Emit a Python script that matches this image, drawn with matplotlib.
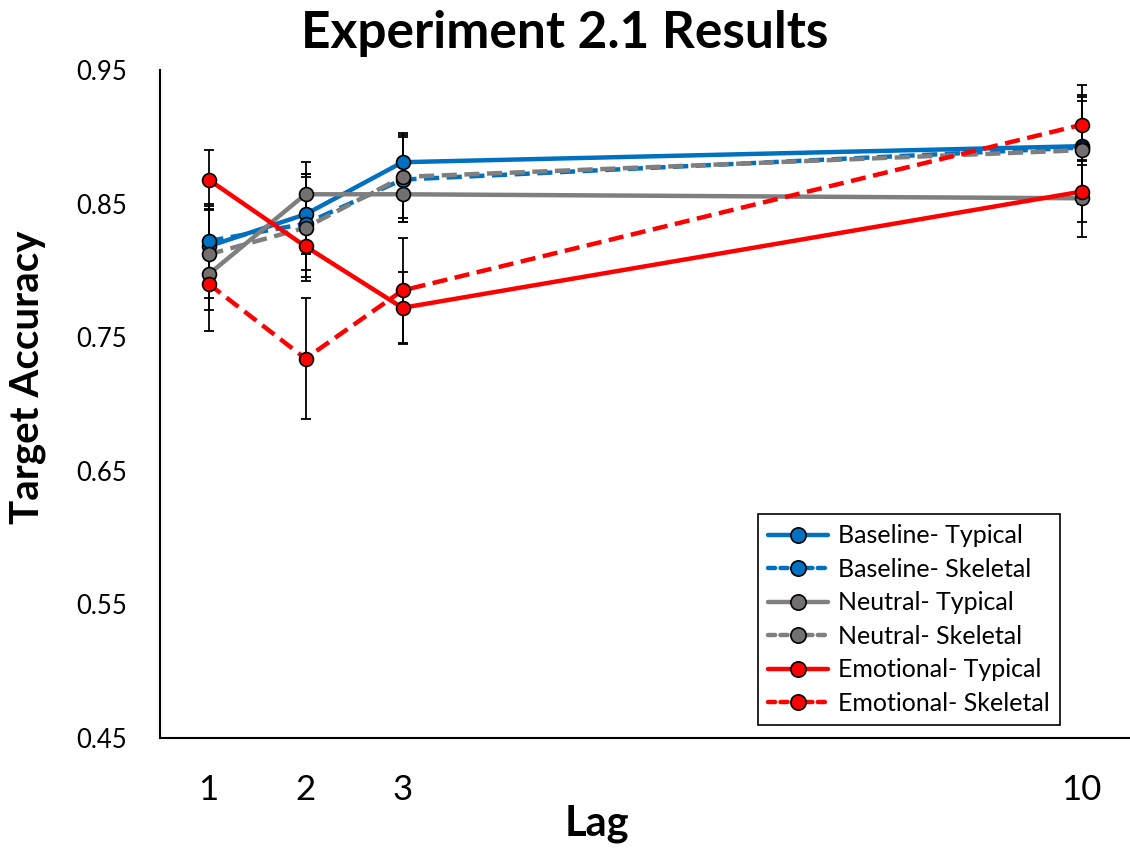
import matplotlib
matplotlib.use("Agg")
import matplotlib.pyplot as plt
from matplotlib.lines import Line2D

# data
lags = [1, 2, 3, 10]
series_names = ["Baseline- Typical", "Baseline- Skeletal", "Neutral- Typical",
                "Neutral- Skeletal", "Emotional- Typical", "Emotional- Skeletal"]
baseline_typical = [0.818, 0.842, 0.881, 0.893]
baseline_skeletal = [0.822, 0.835, 0.868, 0.892]
neutral_typical = [0.797, 0.857, 0.857, 0.854]
neutral_skeletal = [0.812, 0.832, 0.870, 0.890]
emotional_typical = [0.868, 0.818, 0.772, 0.859]
emotional_skeletal = [0.790, 0.734, 0.785, 0.909]

baseline_typical_err = [0.030, 0.030, 0.022, 0.038]
baseline_skeletal_err = [0.028, 0.035, 0.032, 0.035]
neutral_typical_err = [0.027, 0.024, 0.021, 0.029]
neutral_skeletal_err = [0.033, 0.040, 0.031, 0.040]
emotional_typical_err = [0.022, 0.023, 0.027, 0.023]
emotional_skeletal_err = [0.035, 0.045, 0.039, 0.030]

y_ticks = [0.45, 0.55, 0.65, 0.75, 0.85, 0.95]

values = [baseline_typical, baseline_skeletal, neutral_typical,
          neutral_skeletal, emotional_typical, emotional_skeletal]
errors = [baseline_typical_err, baseline_skeletal_err, neutral_typical_err,
          neutral_skeletal_err, emotional_typical_err, emotional_skeletal_err]
line_colors = ["#0070C0", "#0070C0", "#7F7F7F", "#7F7F7F", "#FF0000", "#FF0000"]
marker_colors = ["#0070C0", "#0070C0", "#747070", "#747070", "#FF0000", "#FF0000"]
dashed = [False, True, False, True, False, True]

plt.rcParams["font.family"] = ["Lato", "DejaVu Sans"]

fig = plt.figure(figsize=(11.3, 8.5), dpi=100)
ax = fig.add_axes([0.1416, 0.1318, 0.8584, 0.7858])

handles = []
for i, name in enumerate(series_names):
    ax.errorbar(lags, values[i], yerr=errors[i], fmt="none", ecolor="black",
                elinewidth=1.3, capsize=3.5, capthick=1.3, zorder=2 + i * 0.1)
    ls = (0, (3.4, 1.7)) if dashed[i] else "-"
    ax.plot(lags, values[i], color=line_colors[i], lw=3.2, ls=ls,
            solid_capstyle="round", dash_capstyle="butt", zorder=3 + i * 0.1)
    ax.plot(lags, values[i], ls="none", marker="o", ms=10,
            markerfacecolor=marker_colors[i], markeredgecolor="black",
            markeredgewidth=1.2, zorder=4 + i * 0.1)
    handles.append(Line2D([], [], color=line_colors[i], lw=3.2,
                          ls=(0, (1.6, 1.2)) if dashed[i] else "-",
                          dash_capstyle="round", solid_capstyle="round",
                          marker="o", ms=11, markerfacecolor=marker_colors[i],
                          markeredgecolor="black", markeredgewidth=1.2))

ax.set_xlim(0.5, 10.5)
ax.set_ylim(0.45, 0.95)
ax.set_xticks(lags)
ax.set_xticklabels([str(l) for l in lags])
ax.set_yticks(y_ticks)
ax.set_yticklabels([f"{t:.2f}" for t in y_ticks])
ax.tick_params(axis="both", length=0)
ax.tick_params(axis="y", pad=23.5, labelsize=18.5)
ax.tick_params(axis="x", pad=26, labelsize=25)

for side in ["top", "right"]:
    ax.spines[side].set_visible(False)
for side in ["left", "bottom"]:
    ax.spines[side].set_linewidth(1.5)

fig.text(0.5, 1 - 48 / 850, "Experiment 2.1 Results", ha="center",
         va="baseline", fontsize=37, fontweight="bold")
ax.set_xlabel("Lag", fontsize=30, fontweight="bold")
ax.set_ylabel("Target Accuracy", fontsize=29, fontweight="bold")
ax.xaxis.set_label_coords(0.4505, -0.100)
ax.yaxis.set_label_coords(-0.1175, 0.54)

leg = ax.legend(handles, series_names, loc="lower right",
                bbox_to_anchor=(0.928, 0.0195), borderaxespad=0, fontsize=18,
                fancybox=False, edgecolor="black", framealpha=1,
                handlelength=2.4, handletextpad=0.4, labelspacing=0.42,
                borderpad=0.4)
leg.get_frame().set_linewidth(1.2)

plt.savefig("out.png", dpi=100)
